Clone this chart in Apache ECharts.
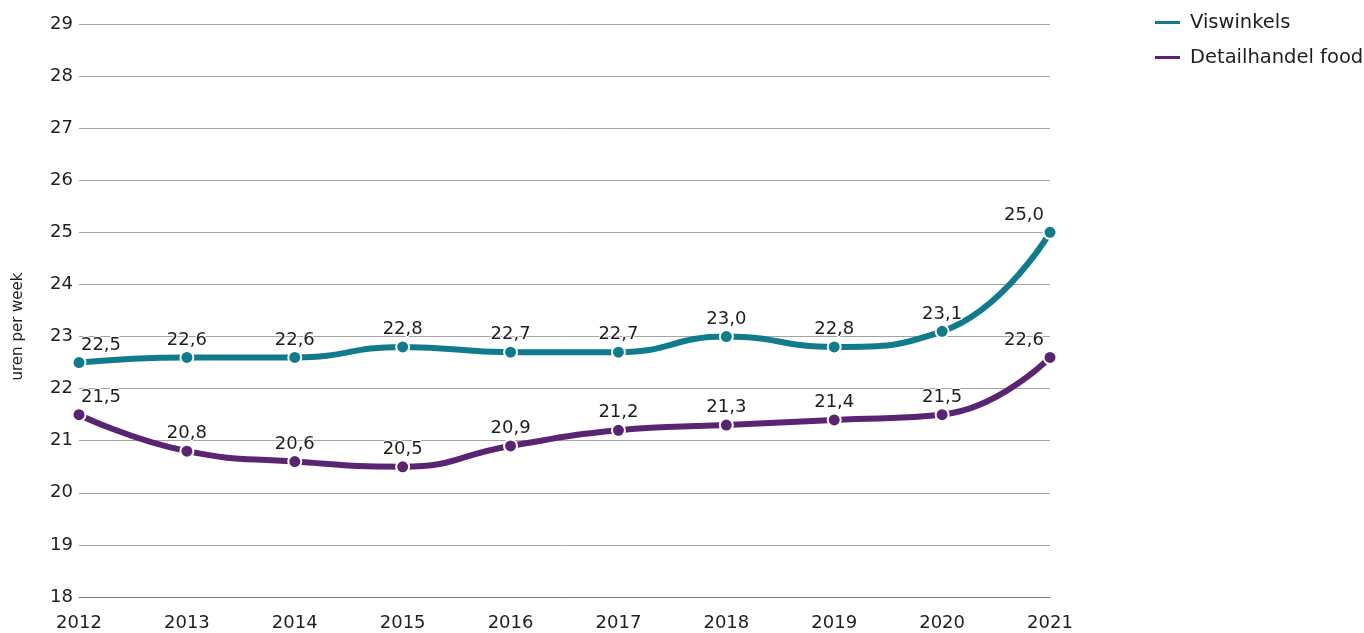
<!DOCTYPE html>
<html>
<head>
<meta charset="utf-8">
<script src="https://cdn.jsdelivr.net/npm/echarts@6/dist/echarts.min.js"></script>
<style>
  html, body { margin: 0; padding: 0; background: #fff; }
  #chart { width: 1364px; height: 633px; }
</style>
</head>
<body>
<div id="chart"></div>
<script>
const years = ['2012', '2013', '2014', '2015', '2016', '2017', '2018', '2019', '2020', '2021']
const viswinkels = [22.5, 22.6, 22.6, 22.8, 22.7, 22.7, 23.0, 22.8, 23.1, 25.0]
const detailhandelFood = [21.5, 20.8, 20.6, 20.5, 20.9, 21.2, 21.3, 21.4, 21.5, 22.6]

const font = 'DejaVu Sans, Verdana, sans-serif'
const textColor = '#1e1e1e'

function lineSeries(name, values, color) {
  const last = values.length - 1
  return {
    name,
    type: 'line',
    // first and last labels are nudged inward so they stay inside the plot
    data: values.map((v, i) => ({
      value: v,
      label: i === 0 ? { offset: [22, 0] } : i === last ? { offset: [-26, 0] } : {}
    })),
    smooth: 0.5,
    symbol: 'circle',
    symbolSize: 13,
    lineStyle: { color, width: 6 },
    itemStyle: { color, borderColor: '#fff', borderWidth: 2 },
    label: {
      show: true,
      position: 'top',
      distance: 1,
      color: textColor,
      fontFamily: font,
      fontSize: 18,
      textBorderColor: '#fff',
      textBorderWidth: 2,
      formatter: p => p.value.toFixed(1).replace('.', ',')
    },
    emphasis: { disabled: true }
  }
}

const chart = echarts.init(document.getElementById('chart'), null, { renderer: 'canvas' })
chart.setOption({
  animation: false,
  textStyle: { fontFamily: font },
  grid: { left: 79, right: 314, top: 24, bottom: 36, containLabel: false },
  legend: {
    orient: 'vertical',
    left: 1148,
    top: 6,
    itemGap: 12,
    itemWidth: 27,
    itemHeight: 5,
    icon: 'rect',
    textStyle: { color: textColor, fontSize: 19.5, fontFamily: font, lineHeight: 23, padding: [0, 0, 0, 4] },
    data: ['Viswinkels', 'Detailhandel food']
  },
  xAxis: {
    type: 'category',
    data: years,
    boundaryGap: false,
    axisLine: { show: true, lineStyle: { color: '#7a7a7a', width: 1 } },
    axisTick: { show: false },
    axisLabel: { color: textColor, fontSize: 18, fontFamily: font, margin: 17 }
  },
  yAxis: {
    type: 'value',
    min: 18,
    max: 29,
    interval: 1,
    name: 'uren per week',
    nameLocation: 'middle',
    nameRotate: 90,
    nameGap: 53,
    nameTextStyle: { color: textColor, fontSize: 15, fontFamily: font, padding: [0, 32, 0, 0] },
    axisLine: { show: false },
    axisTick: { show: false },
    axisLabel: { color: textColor, fontSize: 18, fontFamily: font, margin: 6 },
    splitLine: { lineStyle: { color: '#a3a3a3', width: 1 } }
  },
  series: [
    lineSeries('Viswinkels', viswinkels, '#0f7b8b'),
    lineSeries('Detailhandel food', detailhandelFood, '#5a2473')
  ]
})
</script>
</body>
</html>
